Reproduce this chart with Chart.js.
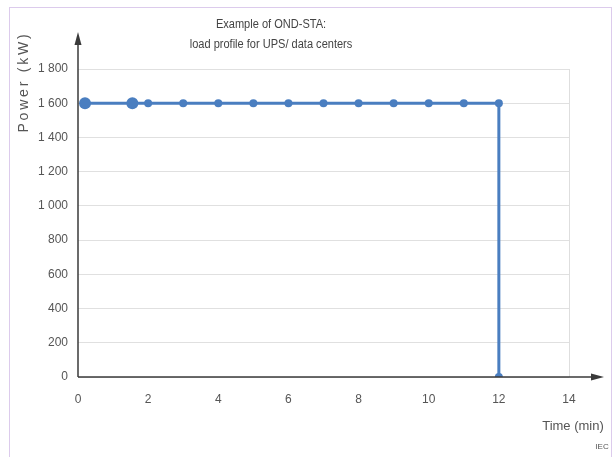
<!DOCTYPE html>
<html>
<head>
<meta charset="utf-8">
<script src="https://cdn.jsdelivr.net/npm/chart.js@4"></script>
<style>
  html, body { margin: 0; padding: 0; background: #fff; }
  #wrap { position: relative; width: 615px; height: 457px; }
  #frame { position: absolute; left: 9px; top: 7px; width: 603px; height: 460px;
           border: 1px solid #dccbec; box-sizing: border-box; pointer-events: none; }
  canvas { position: absolute; left: 0; top: 0; }
</style>
</head>
<body>
<div id="wrap">
  <canvas id="chart" width="615" height="457"></canvas>
  <div id="frame"></div>
</div>
<script>
// load profile points (time in min, power in kW)
const timeMin = [0.2, 1.55, 2, 3, 4, 5, 6, 7, 8, 9, 10, 11, 12, 12];
const powerKW = [1600, 1600, 1600, 1600, 1600, 1600, 1600, 1600, 1600, 1600, 1600, 1600, 1600, 0];
const pointSizes = [6, 6, 4, 4, 4, 4, 4, 4, 4, 4, 4, 4, 4, 4];
const titleLines = ['Example of OND-STA:', 'load profile for UPS/ data centers'];

const blue = '#4a7ec0';
const axisColor = '#3a3a3a';
const font = 'Liberation Sans, Arial, sans-serif';

const fmtKW = v => v >= 1000 ? `${Math.floor(v / 1000)} ${String(v % 1000).padStart(3, '0')}` : String(v);

// title, axis arrows + axis titles
const extras = {
  id: 'extras',
  afterDraw(chart) {
    const c = chart.ctx;
    const xs = chart.scales.x, ys = chart.scales.y;
    const x0 = xs.getPixelForValue(0), y0 = ys.getPixelForValue(0);
    c.save();
    c.strokeStyle = axisColor;
    c.fillStyle = axisColor;
    c.lineWidth = 1.5;
    // y axis
    c.beginPath(); c.moveTo(x0, y0); c.lineTo(x0, 42); c.stroke();
    c.beginPath(); c.moveTo(x0, 32); c.lineTo(x0 - 3.5, 45); c.lineTo(x0 + 3.5, 45); c.closePath(); c.fill();
    // x axis
    c.beginPath(); c.moveTo(x0, y0); c.lineTo(594, y0); c.stroke();
    c.beginPath(); c.moveTo(604, y0); c.lineTo(591, y0 - 3.5); c.lineTo(591, y0 + 3.5); c.closePath(); c.fill();

    c.textBaseline = 'middle';
    c.textAlign = 'center';

    // chart title (slightly condensed like the original)
    c.fillStyle = '#444';
    c.font = `12px ${font}`;
    titleLines.forEach((line, i) => {
      c.save();
      c.translate(271, 25 + i * 20);
      c.scale(0.92, 1);
      c.fillText(line, 0, 0);
      c.restore();
    });

    c.fillStyle = '#555';
    c.save();
    c.font = `14px ${font}`;
    c.letterSpacing = '2.8px';
    c.translate(24, 82);
    c.rotate(-Math.PI / 2);
    c.fillText('Power (kW)', 0, 0);
    c.restore();

    c.font = `13px ${font}`;
    c.fillText('Time (min)', 573, 426);
    c.font = `8px ${font}`;
    c.fillText('IEC', 602, 447);
    c.restore();
  }
};

new Chart(document.getElementById('chart'), {
  type: 'scatter',
  data: {
    datasets: [{
      data: timeMin.map((t, i) => ({ x: t, y: powerKW[i] })),
      showLine: true,
      borderColor: blue,
      backgroundColor: blue,
      borderWidth: 3,
      pointRadius: pointSizes,
      pointBorderWidth: 0,
      tension: 0
    }]
  },
  options: {
    responsive: false,
    animation: false,
    layout: { padding: { left: 0, right: 46, top: 69, bottom: 0 } },
    plugins: {
      legend: { display: false },
      tooltip: { enabled: false },
      title: { display: false }
    },
    scales: {
      x: {
        type: 'linear',
        min: 0, max: 14,
        afterFit: s => { s.height = 80; },
        border: { display: false },
        grid: {
          drawTicks: false,
          color: c => c.tick.value === 14 ? '#dedede' : 'rgba(0,0,0,0)'
        },
        ticks: { stepSize: 2, padding: 15, color: '#555', font: { family: font, size: 12 } }
      },
      y: {
        min: 0, max: 1800,
        afterFit: s => { s.width = 78; },
        border: { display: false },
        grid: { drawTicks: false, color: '#e0e0e0' },
        ticks: { stepSize: 200, padding: 10, color: '#555', font: { family: font, size: 12 }, callback: fmtKW }
      }
    }
  },
  plugins: [extras]
});
</script>
</body>
</html>
